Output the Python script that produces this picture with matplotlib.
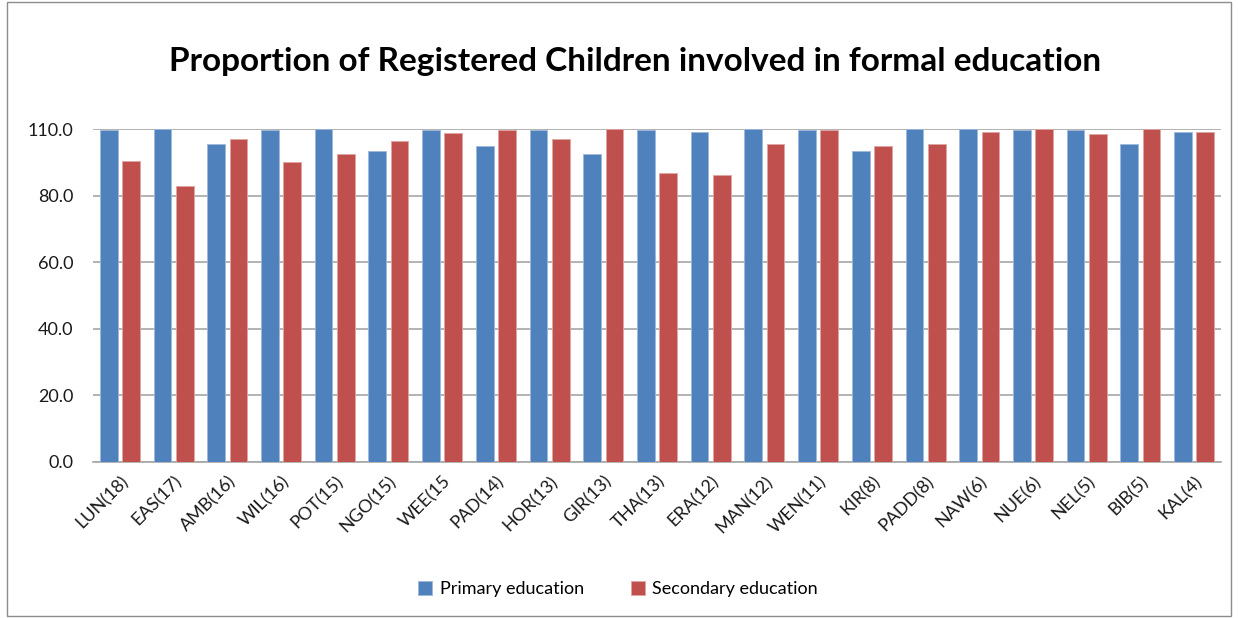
import matplotlib
matplotlib.use("Agg")
import matplotlib.pyplot as plt
import numpy as np
from matplotlib.patches import Rectangle

categories = ["LUN(18)", "EAS(17)", "AMB(16)", "WIL(16)", "POT(15)", "NGO(15)", "WEE(15",
              "PAD(14)", "HOR(13)", "GIR(13)", "THA(13)", "ERA(12)", "MAN(12)", "WEN(11)",
              "KIR(8)", "PADD(8)", "NAW(6)", "NUE(6)", "NEL(5)", "BIB(5)", "KAL(4)"]
primary = [99.6, 100, 95.4, 99.6, 100, 93.3, 99.6, 94.8, 99.6, 92.6, 99.6, 99.1, 100, 99.6,
           93.3, 100, 100, 99.6, 99.6, 95.4, 99.1]
secondary = [90.5, 83.0, 96.9, 90.0, 92.6, 96.4, 98.7, 99.6, 96.9, 100, 86.7, 86.2, 95.4, 99.6,
             94.8, 95.4, 99.1, 100, 98.6, 100, 99.1]
ytick_values = [0, 20, 40, 60, 80, 100]
ytick_labels = ["0.0", "20.0", "40.0", "60.0", "80.0", "110.0"]

plt.rcParams['font.family'] = ['Lato', 'DejaVu Sans']

W, H = 1238, 618
fig = plt.figure(figsize=(W / 100, H / 100), dpi=100)
ax = fig.add_axes([93 / W, 1 - 462 / H, (1221 - 93) / W, (462 - 129) / H])

x = np.arange(len(categories))
bw = 0.33
off = 0.207
ax.bar(x - off, primary, bw, color="#4F81BD", edgecolor="#9DB9DC", linewidth=0.6,
       label="Primary education", zorder=3)
ax.bar(x + off, secondary, bw, color="#C0504D", edgecolor="#E0A5A3", linewidth=0.6,
       label="Secondary education", zorder=3)

ax.set_xlim(-0.5, len(categories) - 0.5)
ax.set_ylim(0, 100)
ax.set_yticks(ytick_values)
ax.set_yticklabels(ytick_labels, fontsize=13, color="#1a1a1a")
ax.set_xticks(x)
ax.set_xticklabels(categories, rotation=45, ha="right", rotation_mode="anchor",
                   fontsize=13, color="#1a1a1a")
ax.tick_params(axis="both", length=0)
ax.tick_params(axis="y", pad=14)
ax.tick_params(axis="x", pad=8)
for s in ["left", "right", "top"]:
    ax.spines[s].set_visible(False)
ax.spines["bottom"].set_color("#A6A6A6")
ax.spines["bottom"].set_linewidth(1.2)
ax.yaxis.grid(True, color="#A6A6A6", linewidth=1.2, zorder=0)
ax.set_axisbelow(True)

fig.text(635 / W, 1 - 61 / H, "Proportion of Registered Children involved in formal education",
         ha="center", va="center", fontsize=24, fontweight="bold", color="#000000")

leg = fig.legend(loc="center", bbox_to_anchor=(618 / W, 1 - 589 / H), ncol=2, frameon=False,
                 fontsize=13, handlelength=0.8, handleheight=0.8, columnspacing=2.6,
                 handletextpad=0.4)

fig.patches.append(Rectangle((7 / W, 2 / H), (1231 - 7) / W, (616 - 2) / H,
                             transform=fig.transFigure, fill=False,
                             edgecolor="#8C8C8C", linewidth=1.0))

fig.savefig("out.png", dpi=100)
